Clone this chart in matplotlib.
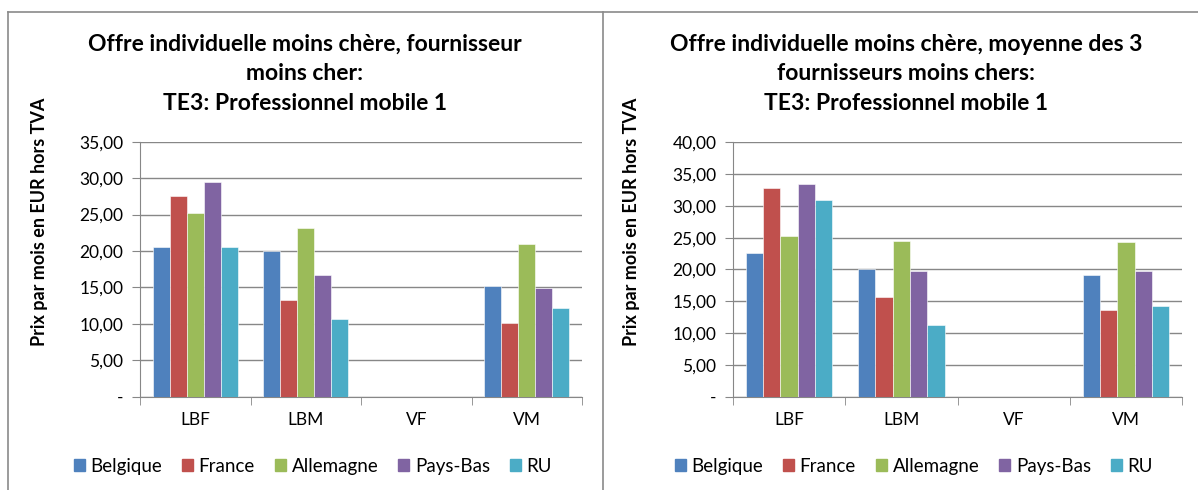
import matplotlib
matplotlib.use("Agg")
import matplotlib.pyplot as plt
from matplotlib.patches import Rectangle
from matplotlib.lines import Line2D
from matplotlib.ticker import FuncFormatter, MultipleLocator
import numpy as np

plt.rcParams["font.family"] = ["Lato", "DejaVu Sans"]

categories = ["LBF", "LBM", "VF", "VM"]
countries = ["Belgique", "France", "Allemagne", "Pays-Bas", "RU"]
colors = ["#4F81BD", "#C0504D", "#9BBB59", "#8064A2", "#4BACC6"]

# left chart: cheapest provider (VF has no data)
left_belgique = [20.6, 20.0, 0, 15.2]
left_france = [27.5, 13.3, 0, 10.1]
left_allemagne = [25.2, 23.1, 0, 21.0]
left_paysbas = [29.4, 16.7, 0, 14.9]
left_ru = [20.5, 10.7, 0, 12.2]

# right chart: average of 3 cheapest providers
right_belgique = [22.6, 20.0, 0, 19.2]
right_france = [32.8, 15.6, 0, 13.7]
right_allemagne = [25.2, 24.5, 0, 24.3]
right_paysbas = [33.5, 19.8, 0, 19.8]
right_ru = [31.0, 11.2, 0, 14.2]

left_title = "Offre individuelle moins chère, fournisseur\nmoins cher:\nTE3: Professionnel mobile 1"
right_title = "Offre individuelle moins chère, moyenne des 3\nfournisseurs moins chers:\nTE3: Professionnel mobile 1"
ylabel = "Prix par mois en EUR hors TVA"

W, H = 1198, 490
fig = plt.figure(figsize=(W / 100, H / 100), dpi=100)
fig.patch.set_facecolor("white")


def px(x0, y0, x1, y1):
    # pixel box (top-left origin) -> figure fraction rect
    return [x0 / W, 1 - y1 / H, (x1 - x0) / W, (y1 - y0) / H]


def fmt(v, _):
    if abs(v) < 1e-9:
        return "-"
    return f"{v:.2f}".replace(".", ",")


def draw_panel(rect, series, ymax, title, title_x, ylabel_x, legend_x):
    ax = fig.add_axes(rect)
    n = len(series)
    x = np.arange(len(categories))
    bw = 0.77 / n
    for i, (vals, col) in enumerate(zip(series, colors)):
        ax.bar(x - 0.385 + bw * (i + 0.5), vals, width=bw, color=col,
               edgecolor="white", linewidth=0.4, zorder=3)
    ax.set_xlim(-0.5, len(categories) - 0.5)
    ax.set_ylim(0, ymax)
    ax.yaxis.set_major_locator(MultipleLocator(5))
    ax.yaxis.set_major_formatter(FuncFormatter(fmt))
    ax.grid(axis="y", color="#878787", linewidth=1, zorder=0)
    for s in ("top", "right"):
        ax.spines[s].set_visible(False)
    for s in ("left", "bottom"):
        ax.spines[s].set_color("#878787")
    ax.set_xticks(x)
    ax.set_xticklabels(categories)
    ax.set_xticks(np.arange(len(categories) + 1) - 0.5, minor=True)
    ax.tick_params(axis="x", which="major", length=0, pad=11, labelsize=12.5)
    ax.tick_params(axis="x", which="minor", length=6, color="#878787", direction="out")
    ax.tick_params(axis="y", length=6, color="#878787", labelsize=12.5, pad=6)

    fig.text(ylabel_x / W, 1 - 222 / H, ylabel, rotation=90, ha="center",
             va="center", fontsize=13, fontweight="bold")
    fig.text(title_x / W, 1 - 34 / H, title, ha="center", va="top",
             fontsize=16.5, fontweight="bold", linespacing=1.5)

    handles = [Rectangle((0, 0), 1, 1, color=c) for c in colors]
    fig.legend(handles, countries, loc="center left",
               bbox_to_anchor=(legend_x / W, 1 - 466 / H), ncol=5,
               frameon=False, fontsize=13.5, handlelength=0.6, handleheight=0.6,
               handletextpad=0.3, columnspacing=1.05, borderaxespad=0)
    return ax


draw_panel(px(140, 141.7, 582, 396.7),
           [left_belgique, left_france, left_allemagne, left_paysbas, left_ru],
           35, left_title, 305, 40, 66)
draw_panel(px(733, 142.3, 1182, 396.7),
           [right_belgique, right_france, right_allemagne, right_paysbas, right_ru],
           40, right_title, 906, 632, 667)

# frame lines of the two chart boxes
frame = dict(color="#8a8a8a", linewidth=1.2, transform=fig.transFigure)
fig.add_artist(Line2D([8 / W, 1], [1 - 12 / H, 1 - 12 / H], **frame))
fig.add_artist(Line2D([8 / W, 8 / W], [0, 1 - 12 / H], **frame))
fig.add_artist(Line2D([603 / W, 603 / W], [0, 1 - 12 / H], **frame))

fig.savefig("out.png", dpi=100)
